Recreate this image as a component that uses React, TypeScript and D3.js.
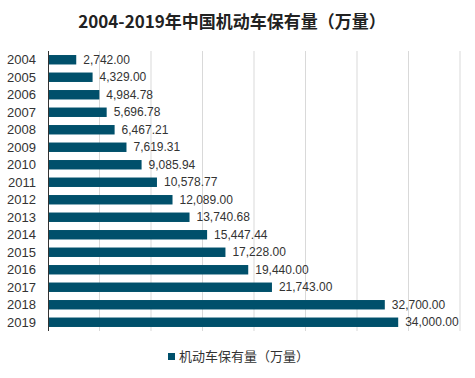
import React from "react";
import * as d3 from "d3";

const years = ["2004","2005","2006","2007","2008","2009","2010","2011","2012","2013","2014","2015","2016","2017","2018","2019"];
const values = [2742.0,4329.0,4984.78,5696.78,6467.21,7619.31,9085.94,10578.77,12089.0,13740.68,15447.44,17228.0,19440.0,21743.0,32700.0,34000.0];
const gridTicks = [0,5000,10000,15000,20000,25000,30000,35000,40000];
const title = "2004-2019年中国机动车保有量（万量）";
const seriesName = "机动车保有量（万量）";

const W = 475, H = 378;
const left = 48, right = 460, top = 51, bottom = 331;
const barColor = "#00506B";

export default function App() {
  const x = d3.scaleLinear().domain([0, 40000]).range([left, right]);
  const y = d3.scaleBand<string>().domain(years).range([top, bottom]).paddingInner(0.46).paddingOuter(0.23);
  const fmt = d3.format(",.2f");
  return (
    <svg width={W} height={H} style={{ position: "absolute", left: 0, top: 0, background: "#fff" }}>
      <text x={232} y={28} textAnchor="middle" fontFamily="'Noto Sans CJK SC', sans-serif" fontWeight="bold" fontSize={17} fill="#222">{title}</text>
      {gridTicks.slice(1).map(t => (
        <line key={t} x1={x(t)} x2={x(t)} y1={top} y2={bottom} stroke="#d9d9d9" strokeWidth={1} />
      ))}
      {years.map((yr, i) => (
        <g key={yr}>
          <rect x={x(0)} y={y(yr)!} width={x(values[i]) - x(0)} height={y.bandwidth()} fill={barColor} />
          <text x={36} y={y(yr)! + y.bandwidth() / 2} dy="0.35em" textAnchor="end" fontFamily="'Liberation Sans', Arial, sans-serif" fontSize={13} fill="#333">{yr}</text>
          <text x={x(values[i]) + 7} y={y(yr)! + y.bandwidth() / 2} dy="0.35em" fontFamily="'Liberation Sans', Arial, sans-serif" fontSize={12} fill="#333">{fmt(values[i])}</text>
        </g>
      ))}
      <line x1={left + 0.5} x2={left + 0.5} y1={top} y2={bottom} stroke="#333" strokeWidth={1} />
      <rect x={168} y={353} width={7} height={7} fill={barColor} />
      <text x={179} y={360.5} fontFamily="'Noto Sans CJK SC', sans-serif" fontSize={13} fill="#333">{seriesName}</text>
    </svg>
  );
}
